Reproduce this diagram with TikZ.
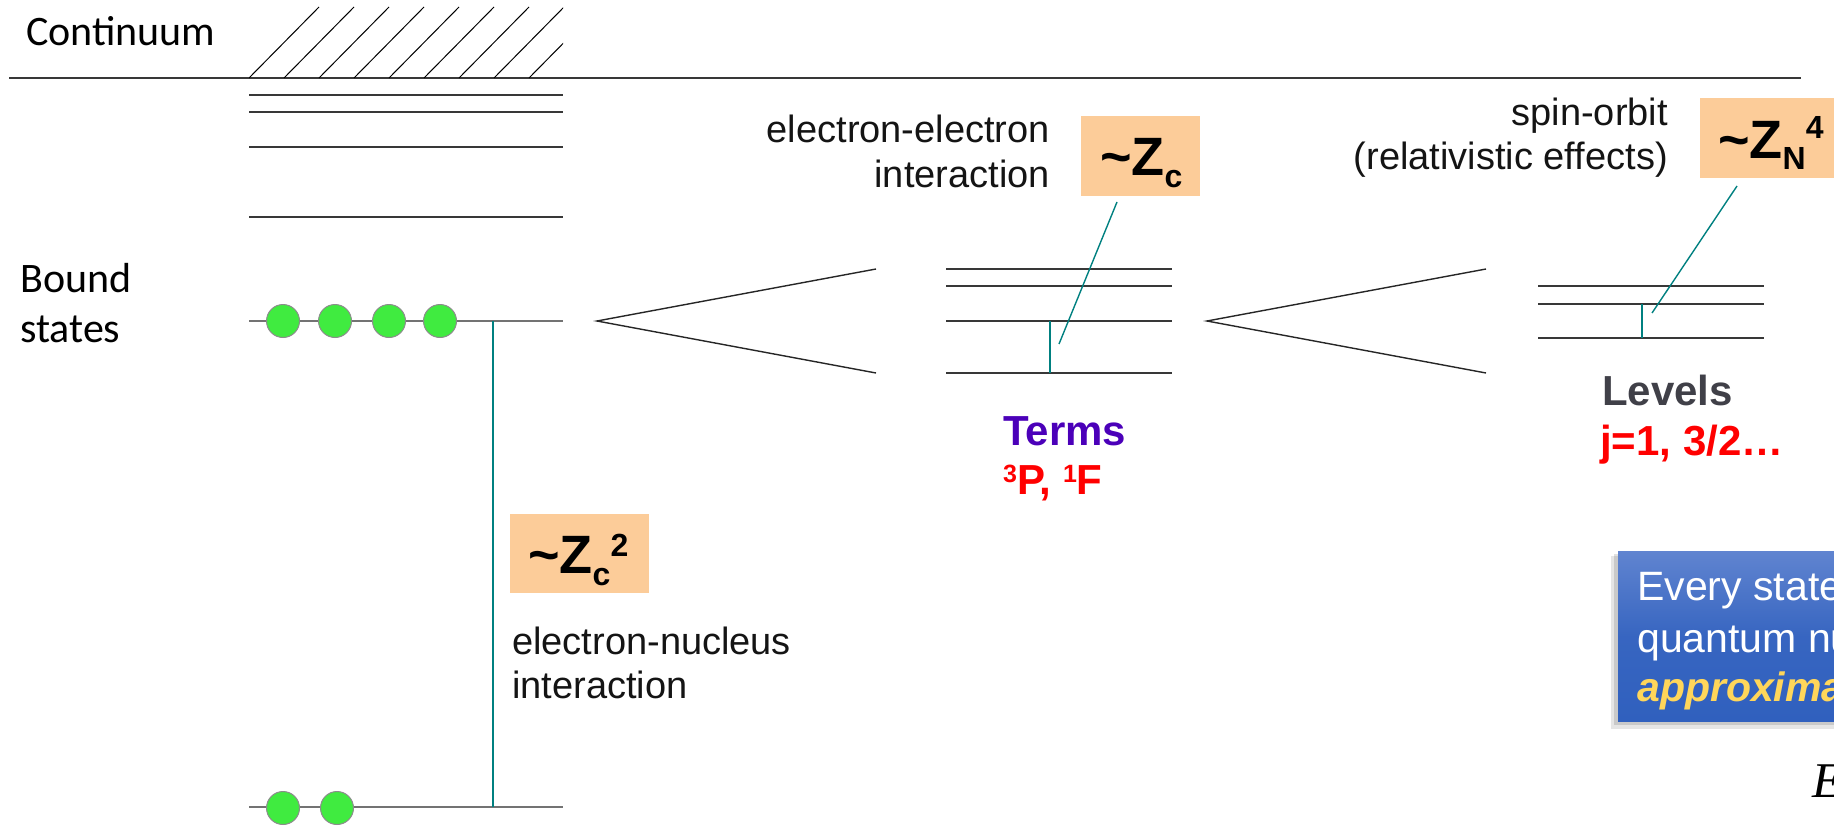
\documentclass[tikz,border=0pt]{standalone}
\usepackage{fontspec}
\setmainfont{Liberation Sans}
\newfontfamily\calfont{Carlito}
\newfontfamily\serfont{Liberation Serif}
\definecolor{peach}{RGB}{252,204,153}
\definecolor{greenc}{RGB}{64,235,64}
\definecolor{tealc}{RGB}{0,128,128}
\definecolor{termc}{RGB}{75,0,185}
\definecolor{levc}{RGB}{64,64,72}
\definecolor{labc}{RGB}{20,20,20}
\definecolor{bluetop}{RGB}{96,132,208}
\definecolor{bluebot}{RGB}{48,96,190}
\definecolor{yel}{RGB}{255,214,90}
\newcommand{\myzsub}[1]{\raisebox{-12pt}{\fontsize{32}{32}\selectfont #1}}
\newcommand{\myzsup}[2]{\raisebox{#1}{\fontsize{32}{32}\selectfont #2}}
\tikzset{
  lvl/.style={draw=black!78, line width=1.5pt},
  gnd/.style={draw=black!55, line width=2pt},
  hatchline/.style={draw=black, line width=1pt},
  wedge/.style={draw=black!85, line width=1.4pt},
  gap/.style={draw=tealc, line width=1.4pt},
  elec/.style={circle, fill=greenc, draw=black!45, line width=1pt, minimum size=33pt, inner sep=0pt},
  zbox/.style={fill=peach, inner sep=0pt, anchor=north west},
  calib/.style={font=\calfont\fontsize{42}{50}\selectfont, inner sep=0pt, anchor=base west},
  lab/.style={font=\fontsize{38}{44}\selectfont, inner sep=0pt, text=labc},
  bigb/.style={font=\bfseries\fontsize{42}{50}\selectfont, inner sep=0pt, anchor=base west},
  ztext/.style={font=\bfseries\fontsize{54}{54}\selectfont, inner sep=0pt, anchor=base west},
  notetext/.style={font=\fontsize{41}{50}\selectfont, inner sep=0pt, anchor=base west, text=white},
}
\begin{document}
\begin{tikzpicture}[x=1pt,y=-1pt]
\useasboundingbox (0,0) rectangle (1834,827);
\clip (0,0) rectangle (1834,827);

% ---- continuum ----
\node[calib] (cont) at (26,45) {Continuum};
\coordinate (ionL) at (9,78);
\coordinate (ionR) at (1801,78);
\draw[lvl] (ionL) -- (ionR);
\begin{scope}
  \clip (249,0) rectangle (563,78);
  \foreach \k in {0,...,8} \draw[hatchline] (249+35*\k,78) -- ++(70,-71);
\end{scope}
\foreach \y in {95,112,147,217} \draw[lvl] (249,\y) -- (563,\y);

% ---- bound states ----
\node[calib] (bs1) at (20,292) {Bound};
\node[calib] (bs2) at (20,342) {states};

\coordinate (gA) at (249,321);
\coordinate (gB) at (563,321);
\coordinate (bA) at (249,807);
\coordinate (bB) at (563,807);
\draw[gnd] (gA) -- (gB);
\draw[gnd] (bA) -- (bB);
\coordinate (nTop) at (493,321);
\coordinate (nBot) at (493,807);
\draw[gap] (nTop) -- (nBot);
\node[elec] (e1) at (283,321) {};
\node[elec] (e2) at (335,321) {};
\node[elec] (e3) at (389,321) {};
\node[elec] (e4) at (440,321) {};
\node[elec] (e5) at (283,808) {};
\node[elec] (e6) at (337,808) {};

% ~Zc^2 box
\node[zbox, minimum width=139pt, minimum height=79pt] (zb1) at (510,514) {};
\node[ztext] (zt1) at (528,573) {\char"7E Z\myzsub{c}\myzsup{17pt}{2}};
\node[lab, anchor=base west] (en1) at (512,654) {electron-nucleus};
\node[lab, anchor=base west] (en2) at (512,698) {interaction};

% ---- wedge 1 ----
\coordinate (w1) at (597,321);
\coordinate (w1u) at (876,269);
\coordinate (w1d) at (876,373);
\draw[wedge] (w1u) -- (w1) -- (w1d);

% ---- terms ----
\foreach \y in {269,286,321,373} \draw[lvl] (946,\y) -- (1172,\y);
\coordinate (tA) at (1050,321);
\coordinate (tB) at (1050,373);
\draw[gap] (tA) -- (tB);
\node[zbox, minimum width=119pt, minimum height=80pt] (zb2) at (1081,116) {};
\node[ztext] (zt2) at (1100,175) {\char"7E Z\myzsub{c}};
\coordinate (s2a) at (1117,202);
\coordinate (s2b) at (1059,344);
\draw[gap] (s2a) -- (s2b);
\node[lab, anchor=base east] (ee1) at (1050,142) {electron-electron};
\node[lab, anchor=base east] (ee2) at (1050,187) {interaction};
\node[bigb, text=termc] (terms) at (1003,445) {Terms};
\node[bigb, text=red] (tnames) at (1003,494) {\raisebox{12pt}{\fontsize{25}{25}\selectfont 3}P, \raisebox{12pt}{\fontsize{25}{25}\selectfont 1}F};

% ---- wedge 2 ----
\coordinate (w2) at (1207,321);
\coordinate (w2u) at (1486,269);
\coordinate (w2d) at (1486,373);
\draw[wedge] (w2u) -- (w2) -- (w2d);

% ---- levels ----
\foreach \y in {286,304,338} \draw[lvl] (1538,\y) -- (1764,\y);
\coordinate (lA) at (1642,304);
\coordinate (lB) at (1642,338);
\draw[gap] (lA) -- (lB);
\node[zbox, minimum width=140pt, minimum height=80pt] (zb3) at (1700,98) {};
\node[ztext] (zt3) at (1718,158) {\char"7E Z\raisebox{-11pt}{\fontsize{32}{32}\selectfont N}\myzsup{20pt}{4}};
\coordinate (s3a) at (1737,186);
\coordinate (s3b) at (1652,313);
\draw[gap] (s3a) -- (s3b);
\node[lab, anchor=base east] (so1) at (1668,125) {spin-orbit};
\node[lab, anchor=base east] (so2) at (1668,169) {(relativistic effects)};
\node[bigb, text=levc] (levels) at (1602,405) {Levels};
\node[bigb, text=red] (jvals) at (1600,455) {j=1, 3/2…};

% ---- note box ----
\fill[black, opacity=0.10] (1611,556) rectangle (1900,729);
\fill[black, opacity=0.12] (1614,554) rectangle (1900,725);
\node[anchor=north west, minimum width=300pt, minimum height=170pt, inner sep=0pt,
      top color=bluetop, bottom color=bluebot, middle color=bluebot!85!bluetop] (note) at (1618,551) {};
\node[notetext] (n1) at (1637,600) {Every state};
\node[notetext] (n2) at (1637,652) {quantum nu};
\node[notetext, font=\bfseries\itshape\fontsize{41}{50}\selectfont, text=yel] (n3) at (1637,701) {approxima};

% ---- E ----
\node[anchor=base west, inner sep=0pt, font=\serfont\itshape\fontsize{50}{50}\selectfont] (en) at (1812,797) {E};
\end{tikzpicture}
\end{document}
